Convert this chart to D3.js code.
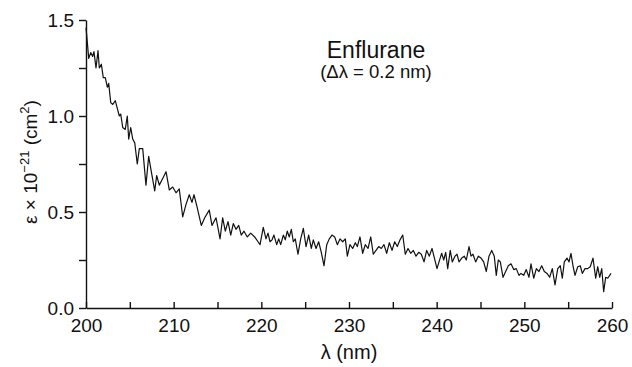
<!DOCTYPE html>
<html>
<head>
<meta charset="utf-8">
<script src="https://cdn.jsdelivr.net/npm/d3@7"></script>
<style>
  html, body { margin: 0; padding: 0; background: #fff; }
  svg { display: block; font-family: "Liberation Sans", Arial, Helvetica, sans-serif; }
</style>
</head>
<body>
<div id="chart"></div>
<script>
// wavelength (nm) and absorption cross section (x 1e-21 cm^2)
const wavelength = [
  200.00, 200.08, 200.31, 200.54, 200.76, 200.91, 201.14, 201.37, 201.52, 201.75,
  201.97, 202.20, 202.43, 202.59, 202.82, 203.05, 203.34, 203.57, 203.80, 203.96,
  204.19, 204.48, 204.71, 204.87, 205.10, 205.33, 205.56, 205.85, 206.08, 206.47,
  206.84, 207.15, 207.45, 207.84, 208.06, 208.36, 208.75, 209.13, 209.50, 209.89,
  210.27, 210.64, 211.03, 211.41, 211.78, 212.09, 212.32, 212.70, 213.15, 213.54,
  214.06, 214.37, 214.83, 215.29, 215.59, 215.89, 216.20, 216.51, 216.80, 217.11,
  217.42, 217.71, 218.02, 218.40, 218.79, 219.24, 219.70, 219.85, 220.22, 220.53,
  220.76, 220.99, 221.22, 221.44, 221.75, 221.98, 222.21, 222.51, 222.73, 222.96,
  223.19, 223.42, 223.65, 223.87, 224.18, 224.49, 224.79, 225.10, 225.40, 225.70,
  225.93, 226.24, 226.54, 226.84, 227.15, 227.46, 227.75, 228.06, 228.37, 228.67,
  228.97, 229.28, 229.58, 229.81, 230.11, 230.42, 230.72, 230.95, 231.25, 231.56,
  231.86, 232.17, 232.48, 232.77, 233.08, 233.39, 233.68, 233.99, 234.30, 234.60,
  234.91, 235.21, 235.51, 235.82, 236.13, 236.42, 236.73, 237.04, 237.34, 237.64,
  237.95, 238.25, 238.56, 238.86, 239.16, 239.47, 240.04, 240.27, 240.57, 240.80,
  241.03, 241.26, 241.55, 241.78, 242.09, 242.32, 242.55, 242.86, 243.15, 243.38,
  243.69, 243.92, 244.14, 244.45, 244.75, 245.06, 245.36, 245.66, 245.97, 246.28,
  246.57, 246.80, 247.03, 247.26, 247.57, 247.87, 248.17, 248.48, 248.79, 249.08,
  249.39, 249.62, 249.93, 250.22, 250.53, 250.76, 251.07, 251.37, 251.67, 251.98,
  252.28, 252.59, 252.89, 253.19, 253.50, 253.81, 254.10, 254.33, 254.56, 254.87,
  255.10, 255.32, 255.55, 255.78, 256.09, 256.38, 256.61, 256.92, 257.23, 257.52,
  257.83, 258.14, 258.37, 258.60, 258.83, 259.05, 259.28, 259.51, 259.74, 259.89
];
const epsilon = [
  1.46, 1.42, 1.30, 1.33, 1.31, 1.335, 1.25, 1.34, 1.25, 1.27,
  1.20, 1.20, 1.15, 1.17, 1.07, 1.06, 1.08, 1.04, 1.00, 1.01,
  0.94, 0.93, 1.00, 0.88, 0.94, 0.88, 0.86, 0.75, 0.83, 0.83,
  0.64, 0.79, 0.71, 0.61, 0.69, 0.64, 0.675, 0.71, 0.615, 0.63,
  0.60, 0.62, 0.475, 0.54, 0.59, 0.55, 0.59, 0.52, 0.43, 0.47,
  0.51, 0.43, 0.47, 0.36, 0.47, 0.40, 0.45, 0.38, 0.44, 0.41,
  0.43, 0.38, 0.40, 0.37, 0.39, 0.37, 0.34, 0.33, 0.42, 0.36,
  0.39, 0.345, 0.355, 0.38, 0.33, 0.36, 0.33, 0.38, 0.355, 0.40,
  0.37, 0.41, 0.345, 0.36, 0.28, 0.36, 0.415, 0.32, 0.38, 0.31,
  0.355, 0.31, 0.345, 0.29, 0.22, 0.33, 0.36, 0.38, 0.37, 0.33,
  0.36, 0.345, 0.36, 0.27, 0.33, 0.31, 0.34, 0.32, 0.37, 0.285,
  0.33, 0.31, 0.37, 0.28, 0.30, 0.32, 0.31, 0.33, 0.285, 0.34,
  0.30, 0.345, 0.32, 0.355, 0.38, 0.28, 0.31, 0.285, 0.30, 0.27,
  0.29, 0.28, 0.24, 0.30, 0.27, 0.31, 0.205, 0.24, 0.285, 0.25,
  0.29, 0.205, 0.30, 0.24, 0.27, 0.28, 0.24, 0.26, 0.27, 0.25,
  0.32, 0.27, 0.28, 0.24, 0.27, 0.26, 0.24, 0.19, 0.27, 0.30,
  0.27, 0.17, 0.25, 0.24, 0.16, 0.19, 0.22, 0.23, 0.20, 0.205,
  0.17, 0.18, 0.17, 0.20, 0.16, 0.23, 0.155, 0.205, 0.19, 0.22,
  0.19, 0.18, 0.16, 0.205, 0.12, 0.205, 0.22, 0.155, 0.24, 0.26,
  0.24, 0.285, 0.22, 0.17, 0.215, 0.22, 0.18, 0.205, 0.205, 0.215,
  0.26, 0.155, 0.215, 0.16, 0.205, 0.085, 0.16, 0.155, 0.17, 0.18
];
const xTicks = [200, 205, 210, 215, 220, 225, 230, 235, 240, 245, 250, 255, 260];
const yTicks = [0, 0.25, 0.5, 0.75, 1.0, 1.25, 1.5];

const width = 632, height = 367;

const svg = d3.select('#chart').append('svg')
  .attr('width', width)
  .attr('height', height)
  .style('background', '#fff');

const x = d3.scaleLinear().domain([200, 260]).range([86, 612]);
const y = d3.scaleLinear().domain([0, 1.5]).range([308, 20]);

// x axis: ticks point up into the plot, labels every 10 nm
const xAxis = d3.axisBottom(x)
  .tickValues(xTicks)
  .tickSizeInner(-6)
  .tickSizeOuter(0)
  .tickPadding(11)
  .tickFormat(d => d % 10 === 0 ? d : '');

svg.append('g')
  .attr('transform', `translate(0,${y(0)})`)
  .call(xAxis)
  .call(g => g.selectAll('text').attr('font-size', 19).attr('fill', '#111').attr('font-family', null))
  .call(g => g.selectAll('line, path').attr('stroke', '#111').attr('stroke-width', 1.4));

// y axis: ticks point outward, labels every 0.5
const yAxis = d3.axisLeft(y)
  .tickValues(yTicks)
  .tickSizeInner(7)
  .tickSizeOuter(0)
  .tickPadding(5)
  .tickFormat(d => (Math.round(d * 100) % 50 === 0) ? d3.format('.1f')(d) : '');

svg.append('g')
  .attr('transform', `translate(${x(200)},0)`)
  .call(yAxis)
  .call(g => g.selectAll('text').attr('font-size', 19).attr('fill', '#111').attr('font-family', null))
  .call(g => g.selectAll('line, path').attr('stroke', '#111').attr('stroke-width', 1.4));

// spectrum
const points = wavelength.map((w, i) => [w, epsilon[i]]);
const line = d3.line().x(d => x(d[0])).y(d => y(d[1]));

svg.append('path')
  .datum(points)
  .attr('fill', 'none')
  .attr('stroke', '#111')
  .attr('stroke-width', 1.2)
  .attr('stroke-linejoin', 'round')
  .attr('d', line);

// labels
svg.append('text')
  .attr('x', 349).attr('y', 359)
  .attr('text-anchor', 'middle')
  .attr('font-size', 20)
  .attr('fill', '#111')
  .text('λ (nm)');

const yLabel = svg.append('text')
  .attr('transform', 'translate(37,162) rotate(-90)')
  .attr('text-anchor', 'middle')
  .attr('font-size', 19)
  .attr('fill', '#111');
yLabel.append('tspan').text('ε × 10');
yLabel.append('tspan').attr('font-size', 13).attr('dy', -8).text('−21');
yLabel.append('tspan').attr('dy', 8).text(' (cm');
yLabel.append('tspan').attr('font-size', 13).attr('dy', -8).text('2');
yLabel.append('tspan').attr('dy', 8).text(')');

svg.append('text')
  .attr('x', 376).attr('y', 58)
  .attr('text-anchor', 'middle')
  .attr('font-size', 23)
  .attr('fill', '#111')
  .text('Enflurane');

svg.append('text')
  .attr('x', 376).attr('y', 78)
  .attr('text-anchor', 'middle')
  .attr('font-size', 18.5)
  .attr('fill', '#111')
  .text('(Δλ = 0.2 nm)');
</script>
</body>
</html>
